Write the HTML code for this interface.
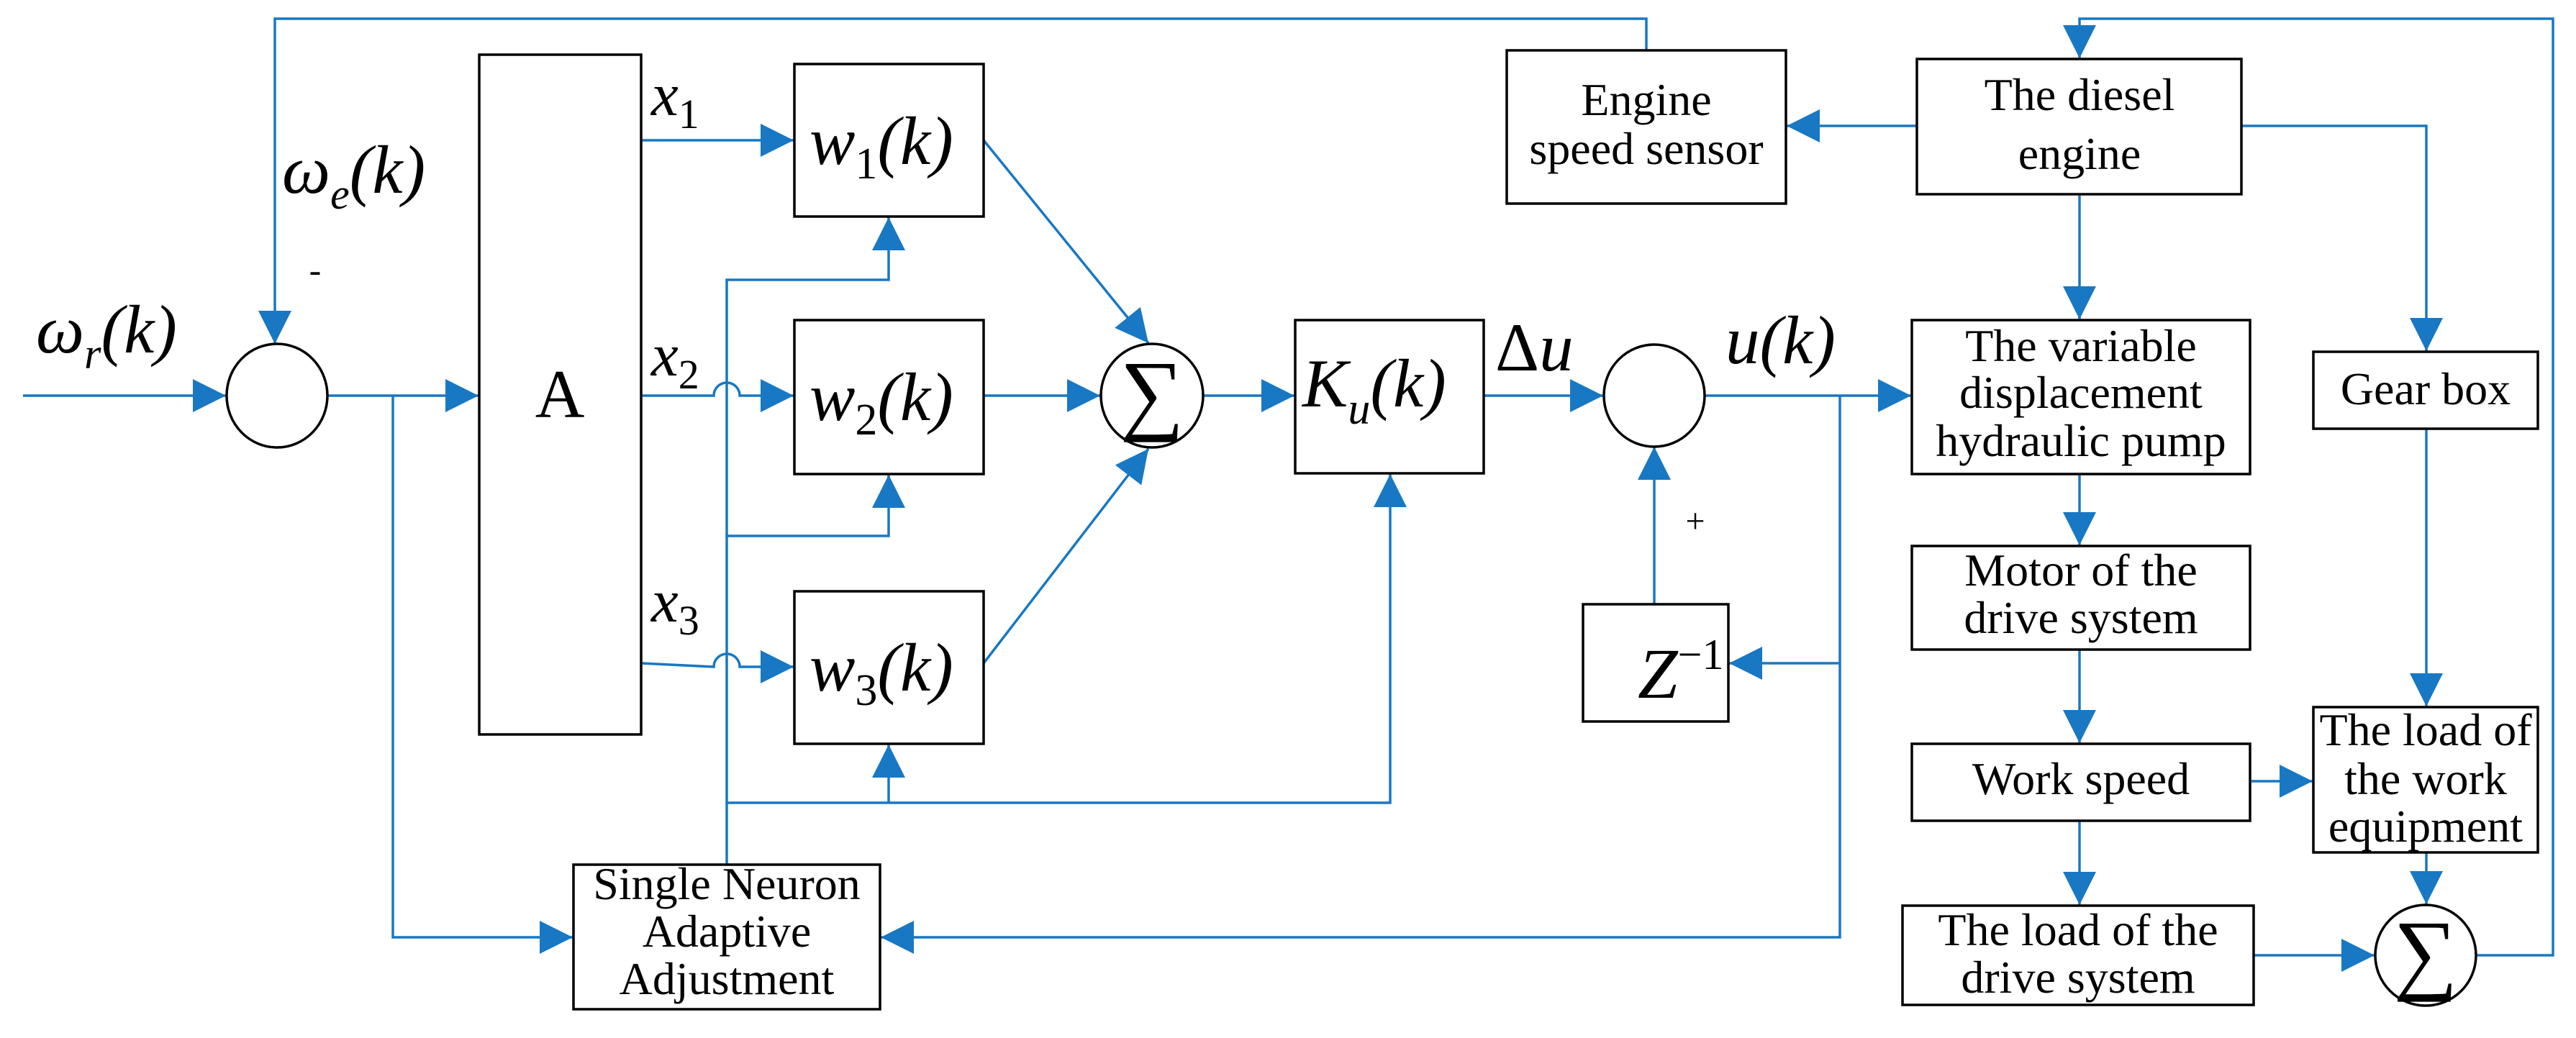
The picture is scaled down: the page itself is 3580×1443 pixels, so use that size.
<!DOCTYPE html>
<html><head><meta charset="utf-8"><style>html,body{margin:0;padding:0;background:#fff}svg{display:block}
.t{font-family:"Liberation Serif","DejaVu Serif",serif;}
</style></head>
<body>
<svg width="3580" height="1443" viewBox="0 0 3580 1443" xmlns="http://www.w3.org/2000/svg">
<defs>
<marker id="a" markerUnits="userSpaceOnUse" markerWidth="48" markerHeight="46" refX="46" refY="23" orient="auto">
<path d="M0,0 L46,23 L0,46 z" fill="#1878c4"/>
</marker>
</defs>
<g fill="none" stroke="#1878c4" stroke-width="3.5">
<path d="M32,550 H314" marker-end="url(#a)"/>
<path d="M2288,70 V26 H382 V478" marker-end="url(#a)"/>
<path d="M456,550 H665" marker-end="url(#a)"/>
<path d="M546,550 V1303 H796" marker-end="url(#a)"/>
<path d="M891,195 H1103" marker-end="url(#a)"/>
<path d="M891,550 H992 A18,18 0 0 1 1028,550 H1103" marker-end="url(#a)"/>
<path d="M891,922 L992,927 A18,18 0 0 1 1028,927 H1103" marker-end="url(#a)"/>
<path d="M1010,1202 V389 H1235 V302" marker-end="url(#a)"/>
<path d="M1010,745 H1235 V660" marker-end="url(#a)"/>
<path d="M1010,1116 H1932 V659" marker-end="url(#a)"/>
<path d="M1235,1116 V1035" marker-end="url(#a)"/>
<path d="M1367,195 L1596,477" marker-end="url(#a)"/>
<path d="M1367,922 L1596,624" marker-end="url(#a)"/>
<path d="M1367,550 H1529" marker-end="url(#a)"/>
<path d="M1672,550 H1799" marker-end="url(#a)"/>
<path d="M2062,550 H2228" marker-end="url(#a)"/>
<path d="M2370,550 H2656" marker-end="url(#a)"/>
<path d="M2557,550 V1303 H1224" marker-end="url(#a)"/>
<path d="M2557,922 H2403" marker-end="url(#a)"/>
<path d="M2299,840 V621" marker-end="url(#a)"/>
<path d="M2664,175 H2483" marker-end="url(#a)"/>
<path d="M3442,1328 H3548 V26 H2890 V81" marker-end="url(#a)"/>
<path d="M3115,175 H3372 V488" marker-end="url(#a)"/>
<path d="M2890,270 V444" marker-end="url(#a)"/>
<path d="M2890,659 V758" marker-end="url(#a)"/>
<path d="M2890,903 V1033" marker-end="url(#a)"/>
<path d="M2890,1141 V1258" marker-end="url(#a)"/>
<path d="M3372,596 V982" marker-end="url(#a)"/>
<path d="M3127,1086 H3214" marker-end="url(#a)"/>
<path d="M3372,1185 V1257" marker-end="url(#a)"/>
<path d="M3132,1328 H3300" marker-end="url(#a)"/>
</g>
<g fill="#fff" stroke="#000" stroke-width="3.5">
<ellipse cx="385" cy="550" rx="70" ry="72"/>
<rect x="666" y="76" width="225" height="945"/>
<rect x="1104" y="89" width="263" height="212"/>
<rect x="1104" y="445" width="263" height="214"/>
<rect x="1104" y="822" width="263" height="212"/>
<ellipse cx="1601" cy="550" rx="71" ry="72"/>
<rect x="1800" y="445" width="262" height="213"/>
<ellipse cx="2299" cy="550" rx="70" ry="71"/>
<rect x="2200" y="840" width="202" height="163"/>
<rect x="797" y="1202" width="426" height="201"/>
<rect x="2094" y="70" width="388" height="213"/>
<rect x="2664" y="82" width="451" height="188"/>
<rect x="2657" y="445" width="470" height="214"/>
<rect x="2657" y="759" width="470" height="144"/>
<rect x="2657" y="1034" width="470" height="107"/>
<rect x="2644" y="1259" width="488" height="138"/>
<rect x="3215" y="489" width="312" height="107"/>
<rect x="3215" y="983" width="312" height="202"/>
<ellipse cx="3371" cy="1328" rx="70" ry="70"/>
</g>
<g class="t" fill="#000">
<text x="1601" y="588" font-size="125" text-anchor="middle">∑</text>
<text x="3371" y="1366" font-size="125" text-anchor="middle">∑</text>
<text x="778" y="580" font-size="95" text-anchor="middle">A</text>
<g font-style="italic" font-size="95">
<text x="50" y="490">ω<tspan font-size="60" dy="22">r</tspan><tspan dy="-22">(k)</tspan></text>
<text x="392" y="268">ω<tspan font-size="60" dy="22">e</tspan><tspan dy="-22">(k)</tspan></text>
<text x="905" y="160" font-size="85">x<tspan font-size="58" dy="18" font-style="normal">1</tspan></text>
<text x="905" y="522" font-size="85">x<tspan font-size="58" dy="18" font-style="normal">2</tspan></text>
<text x="905" y="864" font-size="85">x<tspan font-size="58" dy="18" font-style="normal">3</tspan></text>
<text x="1125" y="228">w<tspan font-size="62" dy="20" font-style="normal">1</tspan><tspan dy="-20">(k)</tspan></text>
<text x="1125" y="584">w<tspan font-size="62" dy="20" font-style="normal">2</tspan><tspan dy="-20">(k)</tspan></text>
<text x="1125" y="960">w<tspan font-size="62" dy="20" font-style="normal">3</tspan><tspan dy="-20">(k)</tspan></text>
<text x="1810" y="565">K<tspan font-size="62" dy="24">u</tspan><tspan dy="-24">(k)</tspan></text>
<text x="2078" y="515"><tspan font-style="normal">Δ</tspan>u</text>
<text x="2398" y="505">u(k)</text>
<text x="2276" y="970" font-size="100">Z<tspan font-size="60" dy="-40" font-style="normal">−1</tspan></text>
</g>
<text x="438" y="392" font-size="50" text-anchor="middle">-</text>
<text x="2356" y="740" font-size="48" text-anchor="middle">+</text>
<g font-size="64" text-anchor="middle">
<text x="1010" y="1250">Single Neuron</text>
<text x="1010" y="1316">Adaptive</text>
<text x="1010" y="1382">Adjustment</text>
<text x="2288" y="160">Engine</text>
<text x="2288" y="228">speed sensor</text>
<text x="2890" y="153">The diesel</text>
<text x="2890" y="235">engine</text>
<text x="2892" y="502">The variable</text>
<text x="2892" y="567">displacement</text>
<text x="2892" y="634">hydraulic pump</text>
<text x="2892" y="814">Motor of the</text>
<text x="2892" y="880">drive system</text>
<text x="2892" y="1104">Work speed</text>
<text x="2888" y="1314">The load of the</text>
<text x="2888" y="1380">drive system</text>
<text x="3371" y="562">Gear box</text>
<text x="3371" y="1036">The load of</text>
<text x="3371" y="1104">the  work</text>
<text x="3371" y="1170">equipment</text>
</g>
</g>
</svg>
</body></html>
